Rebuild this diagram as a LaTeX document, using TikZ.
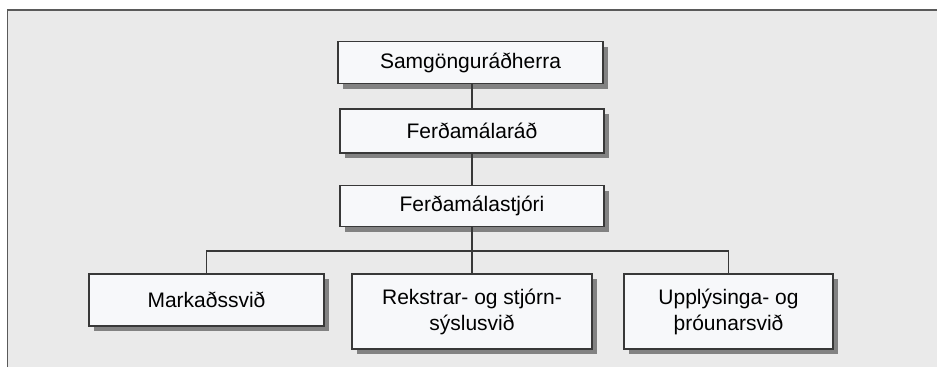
\documentclass[tikz,border=0pt]{standalone}
\usepackage{fontspec}
\setmainfont{Liberation Sans}
\usetikzlibrary{shadows}
\definecolor{bgc}{HTML}{EAEAEA}
\definecolor{boxfill}{HTML}{F7F8FA}
\definecolor{boxline}{HTML}{383838}
\definecolor{shadowc}{HTML}{828282}
\definecolor{framec}{HTML}{5A5A5A}
\tikzset{
  orgbox/.style={draw=boxline, line width=1.5pt, fill=boxfill, inner sep=0pt,
    align=center, font=\fontsize{21}{26}\selectfont,
    drop shadow={shadow xshift=5pt, shadow yshift=-5pt, fill=shadowc, opacity=1}},
  link/.style={draw=boxline, line width=1.4pt}
}
\begin{document}
\begin{tikzpicture}[x=1pt,y=-1pt]
\useasboundingbox (0,0) rectangle (937,367);
\fill[bgc] (7.5,10) rectangle (937,367);
\draw[framec, line width=1.5pt] (7.5,367) -- (7.5,10) -- (937,10);
\node[orgbox, minimum width=265pt, minimum height=42pt] (A) at (470.5,62.5) {Samgönguráðherra};
\node[orgbox, minimum width=264pt, minimum height=44pt] (B) at (472,131) {Ferðamálaráð};
\node[orgbox, minimum width=264pt, minimum height=41pt] (C) at (472,206) {Ferðamálastjóri};
\node[orgbox, minimum width=235pt, minimum height=52pt] (D) at (206.5,300) {Markaðssvið};
\node[orgbox, minimum width=240pt, minimum height=75pt] (E) at (472,311.5) {Rekstrar- og stjórn-\\sýslusvið};
\node[orgbox, minimum width=209pt, minimum height=75pt] (F) at (728.5,311.5) {Upplýsinga- og\\þróunarsvið};
\coordinate (J) at (472,251);
\draw[link] (A.south -| B) -- (B.north);
\draw[link] (B) -- (C);
\draw[link] (C.south) -- (J);
\draw[link] (D.north) |- (J) -| (F.north);
\draw[link] (J) -- (E.north);
\end{tikzpicture}
\end{document}
